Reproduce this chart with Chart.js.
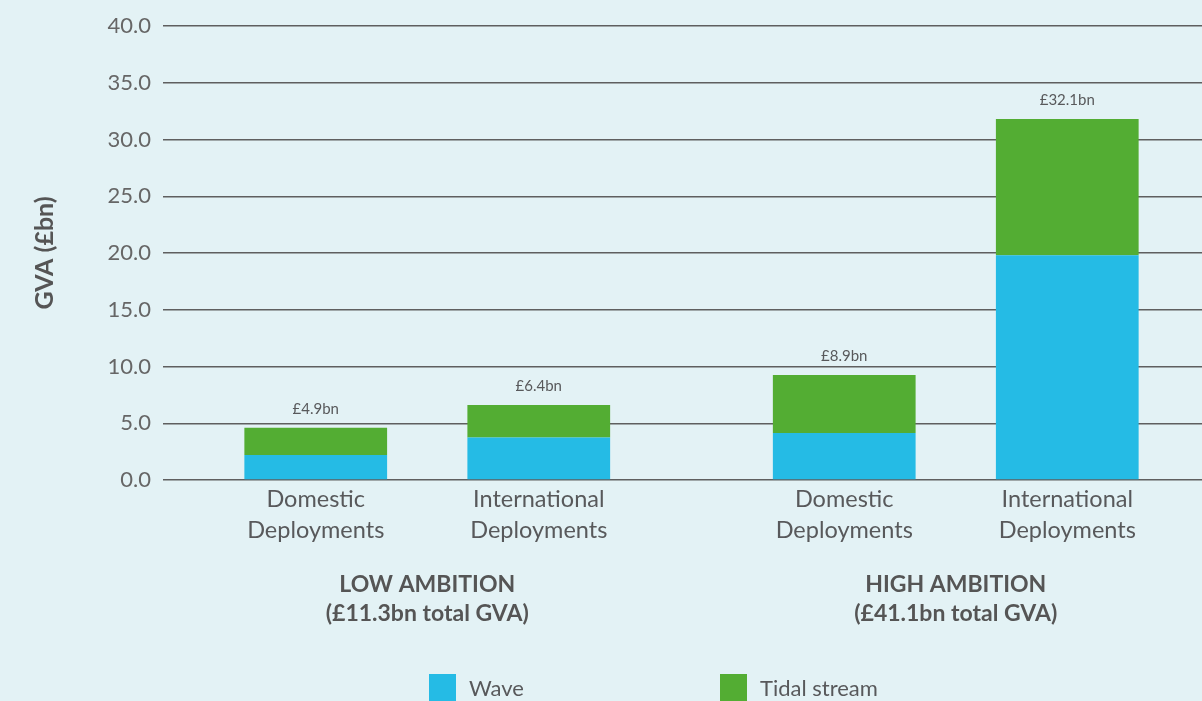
<!DOCTYPE html>
<html><head><meta charset="utf-8">
<script src="https://cdn.jsdelivr.net/npm/chart.js@4.4.0/dist/chart.umd.min.js"></script>
<style>
html,body{margin:0;padding:0;background:#e3f2f5;overflow:hidden;width:1202px;height:701px;}
#wrap{position:absolute;left:0;top:0;width:1220px;height:701px;}
canvas{display:block;}
</style></head><body>
<div id="wrap"><canvas id="c" width="1220" height="701"></canvas></div>
<script>
// ---- data ----
const ambitionLabels = [['LOW AMBITION', '(£11.3bn total GVA)'], ['HIGH AMBITION', '(£41.1bn total GVA)']];
const deploymentDomestic = ['Domestic', 'Deployments'];
const deploymentInternational = ['International', 'Deployments'];
const waveDomestic = [2.2, 4.15];
const tidalDomestic = [2.4, 5.1];
const waveInternational = [3.75, 19.8];
const tidalInternational = [2.85, 12.0];
const totalDomestic = ['£4.9bn', '£8.9bn'];
const totalInternational = ['£6.4bn', '£32.1bn'];
const seriesNames = ['Wave', 'Tidal stream'];
const yMin = 0, yMax = 40, yStep = 5;

const WAVE = '#25bbe5';
const TIDAL = '#53ad33';
const TEXT = '#58595b';
const FONT = 'Lato, "Open Sans", sans-serif';

const annotate = {
  id: 'annotate',
  afterDatasetsDraw(chart) {
    const ctx = chart.ctx;
    const area = chart.chartArea;
    chart.data.datasets.forEach((ds, i) => {
      if (!ds.totals) return;
      const meta = chart.getDatasetMeta(i);
      meta.data.forEach((el, j) => {
        ctx.save();
        ctx.fillStyle = TEXT;
        ctx.textAlign = 'center';
        ctx.textBaseline = 'middle';
        ctx.font = '15px ' + FONT;
        ctx.fillText(ds.totals[j], el.x, el.y - 19);
        ctx.font = '23.5px ' + FONT;
        ds.deployment.forEach((line, k) => ctx.fillText(line, el.x, area.bottom + 19 + k * 31));
        ctx.restore();
      });
    });
  },
  afterDraw(chart) {
    const ctx = chart.ctx;
    const xs = [429, 720];
    const seen = {};
    let idx = 0;
    chart.data.datasets.forEach(ds => {
      if (seen[ds.label]) return;
      seen[ds.label] = true;
      const x = xs[idx++];
      const top = 674;
      ctx.save();
      ctx.fillStyle = ds.backgroundColor;
      ctx.fillRect(x, top, 27, 27);
      ctx.fillStyle = TEXT;
      ctx.font = '22px ' + FONT;
      ctx.textAlign = 'left';
      ctx.textBaseline = 'middle';
      ctx.fillText(ds.label, x + 40, top + 15);
      ctx.restore();
    });
  }
};

new Chart(document.getElementById('c'), {
  type: 'bar',
  data: {
    labels: ambitionLabels,
    datasets: [
      { label: seriesNames[0], data: waveDomestic, backgroundColor: WAVE, stack: 'dom' },
      { label: seriesNames[1], data: tidalDomestic, backgroundColor: TIDAL, stack: 'dom',
        totals: totalDomestic, deployment: deploymentDomestic },
      { label: seriesNames[0], data: waveInternational, backgroundColor: WAVE, stack: 'int' },
      { label: seriesNames[1], data: tidalInternational, backgroundColor: TIDAL, stack: 'int',
        totals: totalInternational, deployment: deploymentInternational }
    ]
  },
  options: {
    responsive: false,
    animation: false,
    categoryPercentage: 0.844,
    barPercentage: 0.64,
    layout: { padding: { top: 26, bottom: 72, left: 0, right: 0 } },
    plugins: { legend: { display: false }, tooltip: { enabled: false } },
    scales: {
      x: {
        stacked: true,
        afterFit(scale) { scale.height = 149; },
        grid: { display: false, drawTicks: false },
        border: { display: false },
        ticks: {
          padding: 90,
          color: '#555',
          font: { family: FONT, size: 23, weight: 'bold', lineHeight: 1.27 },
          maxRotation: 0, autoSkip: false
        }
      },
      y: {
        stacked: true,
        min: yMin, max: yMax,
        afterFit(scale) { scale.width = 163; },
        grid: { color: '#5f5f5f', lineWidth: 1.5, drawTicks: false },
        border: { display: false },
        ticks: {
          stepSize: yStep,
          padding: 12,
          color: '#666',
          font: { family: FONT, size: 22 },
          callback: v => Number(v).toFixed(1)
        },
        title: {
          display: true,
          text: 'GVA (£bn)',
          color: '#555',
          font: { family: FONT, size: 25, weight: 'bold' },
          padding: { top: 30, bottom: 0 }
        }
      }
    }
  },
  plugins: [annotate]
});
</script>
</body></html>
